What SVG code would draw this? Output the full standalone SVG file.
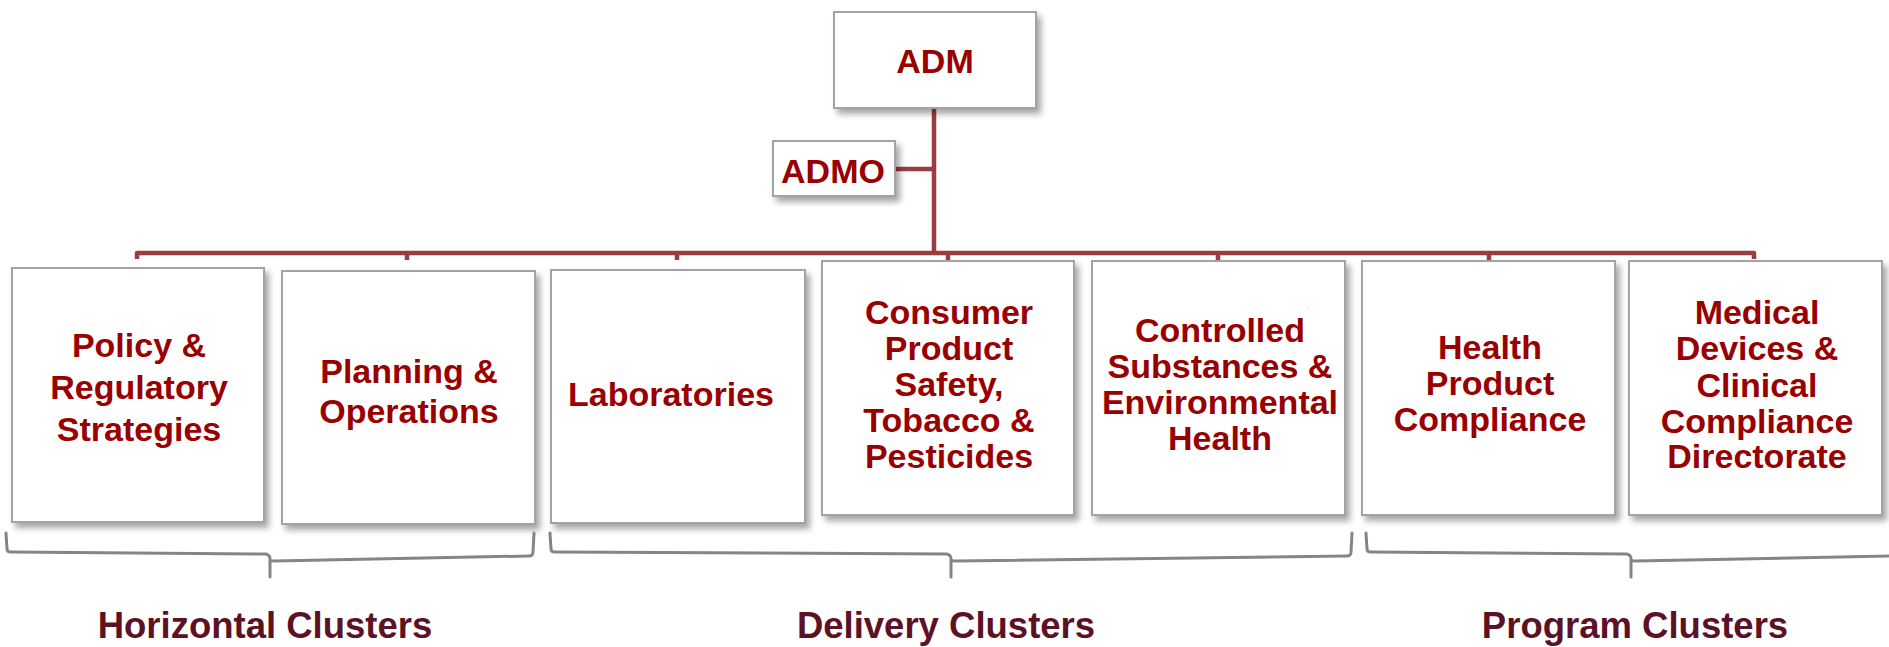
<svg xmlns="http://www.w3.org/2000/svg" width="1889" height="647" viewBox="0 0 1889 647">
<defs>
<filter id="sh" x="-10%" y="-10%" width="130%" height="130%">
<feDropShadow dx="4" dy="5" stdDeviation="3" flood-color="#000" flood-opacity="0.35"/>
</filter>
</defs>
<style>
.box{fill:#fff;stroke:#a3a3a3;stroke-width:2;filter:url(#sh)}
.t{font-family:"Liberation Sans",Arial,sans-serif;font-weight:bold;font-size:34px;fill:#990000;text-anchor:middle}
.lbl{font-family:"Liberation Sans",Arial,sans-serif;font-weight:bold;font-size:36.5px;fill:#5c1224;text-anchor:middle}
.con{fill:none;stroke:#9c3c3e;stroke-width:4.5;stroke-linejoin:round}
.br{fill:none;stroke:#858585;stroke-width:3;stroke-linejoin:round;stroke-linecap:round}
</style>
<rect width="1889" height="647" fill="#fff"/>
<g id="connectors">
<path class="con" d="M934 108 V253"/>
<path class="con" d="M895 169 H934"/>
<path class="con" d="M137 259 V253 H1754 V259" stroke-width="5"/>
<path class="con" d="M407 253 V260 M677 253 V260 M948 253 V260 M1218 253 V260 M1489 253 V260"/>
</g>
<g id="adm">
<rect class="box" x="834" y="12" width="202" height="96"/>
<text class="t" x="935" y="73">ADM</text>
</g>
<g id="admo">
<rect class="box" x="773" y="141" width="122" height="55"/>
<text class="t" x="833" y="183" font-size="33">ADMO</text>
</g>
<g id="policy">
<rect class="box" x="12" y="268" width="252" height="254"/>
<text class="t" x="139" y="357">Policy &amp;</text>
<text class="t" x="139" y="399">Regulatory</text>
<text class="t" x="139" y="441">Strategies</text>
</g>
<g id="planning">
<rect class="box" x="282" y="271" width="253" height="253"/>
<text class="t" x="409" y="383">Planning &amp;</text>
<text class="t" x="409" y="423">Operations</text>
</g>
<g id="labs">
<rect class="box" x="551" y="270" width="254" height="253"/>
<text class="t" x="671" y="406">Laboratories</text>
</g>
<g id="consumer">
<rect class="box" x="822" y="261" width="252" height="254"/>
<text class="t" x="949" y="324">Consumer</text>
<text class="t" x="949" y="360">Product</text>
<text class="t" x="949" y="396">Safety,</text>
<text class="t" x="949" y="432">Tobacco &amp;</text>
<text class="t" x="949" y="468">Pesticides</text>
</g>
<g id="controlled">
<rect class="box" x="1092" y="261" width="253" height="254"/>
<text class="t" x="1220" y="342">Controlled</text>
<text class="t" x="1220" y="378">Substances &amp;</text>
<text class="t" x="1220" y="414">Environmental</text>
<text class="t" x="1220" y="450">Health</text>
</g>
<g id="health">
<rect class="box" x="1362" y="261" width="253" height="254"/>
<text class="t" x="1490" y="359">Health</text>
<text class="t" x="1490" y="395">Product</text>
<text class="t" x="1490" y="431">Compliance</text>
</g>
<g id="medical">
<rect class="box" x="1629" y="261" width="253" height="254"/>
<text class="t" x="1757" y="324">Medical</text>
<text class="t" x="1757" y="360">Devices &amp;</text>
<text class="t" x="1757" y="397">Clinical</text>
<text class="t" x="1757" y="433">Compliance</text>
<text class="t" x="1757" y="468">Directorate</text>
</g>
<g id="brackets">
<path class="br" d="M6 533 L7 549 Q7 552 11 552 L266 554 Q270 555 270 559 L270 577 M270 560 Q270 561 275 561 L529 556 Q533 556 533 552 L534 533"/>
<path class="br" d="M550 533 L551 549 Q551 552 555 552 L947 554 Q951 555 951 559 L951 577 M951 560 Q951 561 956 561 L1347 556 Q1351 556 1351 552 L1352 533"/>
<path class="br" d="M1366 533 L1367 549 Q1367 552 1371 552 L1627 554 Q1631 555 1631 559 L1631 577 M1631 560 Q1631 561 1636 561 L1892 556 Q1896 556 1896 552 L1897 533"/>
</g>
<g id="labels">
<text class="lbl" x="265" y="638">Horizontal Clusters</text>
<text class="lbl" x="946" y="638">Delivery Clusters</text>
<text class="lbl" x="1635" y="638">Program Clusters</text>
</g>
</svg>
